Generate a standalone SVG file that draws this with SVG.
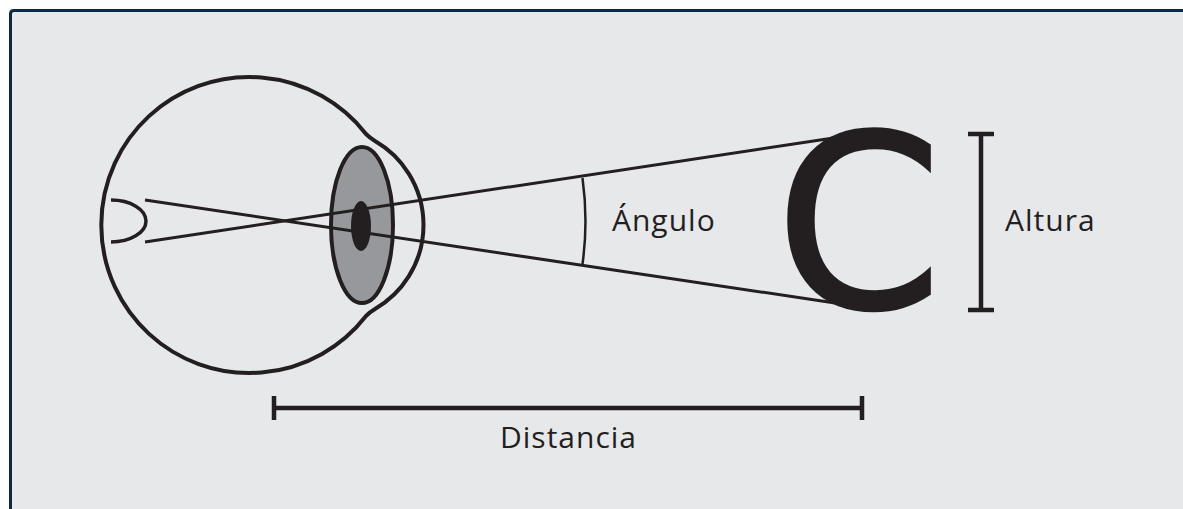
<svg xmlns="http://www.w3.org/2000/svg" width="1183" height="509" viewBox="0 0 1183 509">
  <style>
    .ink { stroke: #231f20; fill: none; }
    .label { font-family: "Open Sans", "DejaVu Sans", sans-serif; font-size: 30px; letter-spacing: 1px; fill: #231f20; }
  </style>
  <rect x="0" y="0" width="1183" height="509" fill="#ffffff"/>
  <!-- panel: grey fill, dark frame on the top and left edges only -->
  <rect x="10.5" y="10.5" width="1180" height="510" fill="#e7e8ea"/>
  <path d="M10.5,520 V14 Q10.5,10.5 14,10.5 H1190" fill="none" stroke="#0c2947" stroke-width="3"/>

  <!-- eye -->
  <g id="eye">
    <path class="ink" stroke-width="4" d="M366,134 A148,148 0 1 0 366,316 Q370,312 375,309 A97,97 0 0 0 375,141 Q370,138 366,134 Z"/>
    <ellipse cx="362" cy="225" rx="31" ry="78" fill="#97989c" stroke="#231f20" stroke-width="4"/>
    <ellipse cx="361" cy="226" rx="10" ry="25" fill="#231f20"/>
    <path id="retina" class="ink" stroke-width="3.5" d="M111,200 A35,21 0 0 1 111,242"/>
  </g>

  <!-- sight lines crossing inside the eye -->
  <g id="connectors">
    <line class="ink" stroke-width="3" x1="145" y1="242" x2="840" y2="137"/>
    <line class="ink" stroke-width="3" x1="145" y1="200" x2="835" y2="303"/>
    <path class="ink" stroke-width="2.5" d="M582.5,178 A313,313 0 0 1 582.5,264"/>
  </g>

  <g id="angle-label">
    <text class="label" x="612" y="231">Ángulo</text>
  </g>

  <!-- optotype -->
  <g id="optotype">
    <text x="775" y="308" font-family="DejaVu Sans, sans-serif" font-size="240" fill="#231f20" stroke="#231f20" stroke-width="2.5">C</text>
  </g>

  <g id="height">
    <path class="ink" stroke-width="4.5" d="M981,134 V310 M968,134 H994 M968,310 H994"/>
    <text class="label" x="1005" y="231">Altura</text>
  </g>

  <g id="distance">
    <path class="ink" stroke-width="4.5" d="M274,408 H862 M274,396 V420 M862,396 V420"/>
    <text class="label" x="500" y="448">Distancia</text>
  </g>
</svg>
